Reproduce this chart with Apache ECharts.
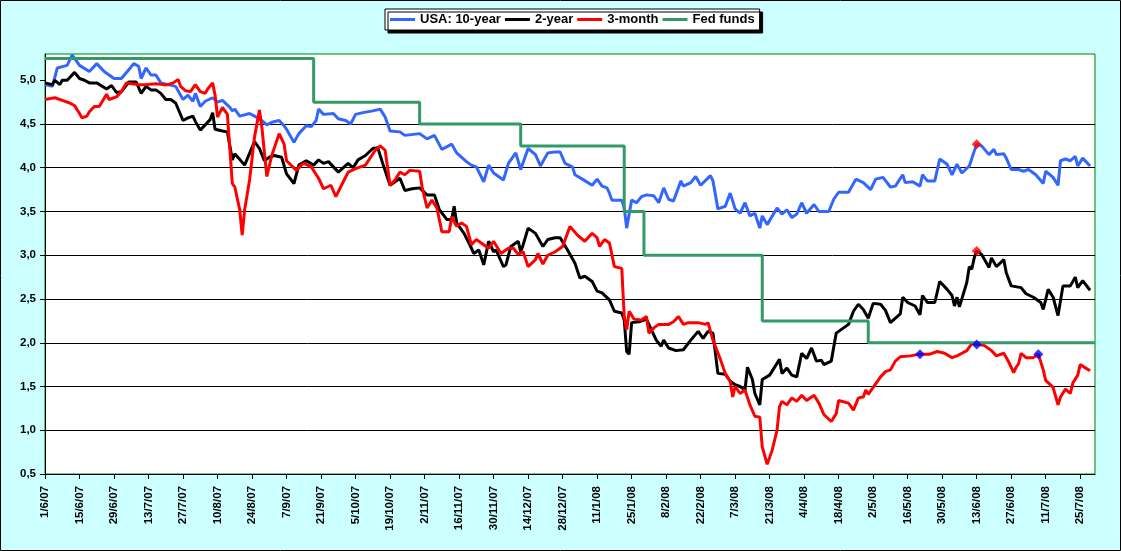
<!DOCTYPE html>
<html><head><meta charset="utf-8">
<script src="https://cdn.jsdelivr.net/npm/echarts@6/dist/echarts.min.js"></script>
<style>html,body{margin:0;padding:0;background:#CCFFFF;overflow:hidden}#c{width:1121px;height:551px}</style>
</head><body><div id="c"></div>
<script>
// x values are calendar days counted from 1 June 2007
const tickLabels = ['1/6/07','15/6/07','29/6/07','13/7/07','27/7/07','10/8/07','24/8/07','7/9/07','21/9/07','5/10/07','19/10/07','2/11/07','16/11/07','30/11/07','14/12/07','28/12/07','11/1/08','25/1/08','8/2/08','22/2/08','7/3/08','21/3/08','4/4/08','18/4/08','2/5/08','16/5/08','30/5/08','13/6/08','27/6/08','11/7/08','25/7/08'];
const yTicks = [0.5,1.0,1.5,2.0,2.5,3.0,3.5,4.0,4.5,5.0];

const tenYear = [[0,4.95],[3,4.93],[5,5.14],[9,5.17],[11,5.29],[14,5.17],[18,5.10],[21,5.19],[24,5.10],[28,5.02],[31,5.02],[34,5.12],[36,5.19],[38,5.16],[39,5.02],[41,5.14],[43,5.06],[45,5.06],[47,4.97],[50,4.95],[53,4.93],[56,4.78],[58,4.83],[60,4.76],[61,4.85],[63,4.70],[65,4.76],[68,4.80],[70,4.75],[72,4.77],[75,4.69],[76,4.65],[77,4.67],[79,4.59],[83,4.62],[85,4.59],[88,4.54],[90,4.49],[92,4.52],[95,4.54],[97,4.48],[98,4.44],[101,4.29],[103,4.39],[106,4.48],[108,4.47],[110,4.54],[111,4.67],[113,4.61],[117,4.62],[119,4.56],[122,4.54],[124,4.50],[126,4.61],[129,4.63],[133,4.65],[136,4.67],[138,4.58],[140,4.42],[144,4.41],[146,4.37],[152,4.39],[155,4.33],[158,4.37],[161,4.21],[165,4.27],[167,4.17],[171,4.07],[173,4.03],[175,4.01],[178,3.84],[180,4.03],[182,3.94],[186,3.86],[188,4.05],[191,4.17],[193,3.98],[196,4.22],[199,4.15],[201,4.02],[204,4.17],[207,4.18],[209,4.18],[211,4.05],[214,4.01],[215,3.92],[218,3.87],[222,3.80],[224,3.87],[226,3.79],[228,3.77],[229,3.71],[230,3.63],[234,3.63],[235,3.54],[236,3.31],[238,3.63],[240,3.60],[242,3.67],[244,3.69],[247,3.68],[249,3.60],[251,3.77],[253,3.64],[255,3.62],[258,3.85],[259,3.79],[262,3.83],[264,3.90],[266,3.80],[270,3.91],[271,3.85],[273,3.53],[276,3.56],[278,3.71],[280,3.53],[282,3.48],[284,3.60],[286,3.45],[288,3.48],[290,3.31],[291,3.45],[293,3.35],[297,3.54],[299,3.47],[301,3.52],[303,3.43],[305,3.47],[307,3.60],[309,3.48],[312,3.58],[314,3.50],[318,3.50],[320,3.64],[322,3.72],[326,3.72],[329,3.87],[332,3.83],[335,3.75],[337,3.87],[340,3.89],[343,3.78],[345,3.79],[348,3.92],[349,3.83],[352,3.84],[355,3.79],[356,3.92],[358,3.85],[361,3.85],[363,4.10],[366,4.04],[368,3.92],[370,4.04],[372,3.94],[375,4.02],[377,4.19],[378,4.27],[380,4.25],[383,4.15],[385,4.21],[386,4.15],[389,4.16],[390,4.11],[392,3.98],[395,3.98],[397,3.96],[399,3.98],[402,3.92],[405,3.82],[406,3.96],[409,3.89],[411,3.80],[412,4.08],[414,4.10],[416,4.08],[418,4.13],[419,4.02],[421,4.11],[424,4.02]];

const twoYear = [[0,4.97],[3,4.95],[4,5.00],[6,4.95],[7,5.00],[9,5.00],[12,5.09],[14,5.02],[16,5.00],[18,4.97],[21,4.97],[25,4.90],[27,4.94],[29,4.86],[31,4.87],[34,4.98],[37,4.98],[39,4.85],[41,4.93],[43,4.89],[45,4.89],[47,4.85],[49,4.78],[51,4.78],[53,4.74],[56,4.54],[58,4.57],[60,4.59],[61,4.53],[63,4.43],[65,4.49],[67,4.55],[68,4.63],[69,4.44],[72,4.42],[74,4.41],[76,4.09],[77,4.16],[81,4.03],[85,4.30],[87,4.22],[89,4.08],[91,4.12],[93,4.14],[96,4.12],[98,3.93],[101,3.82],[103,4.03],[106,4.08],[109,4.03],[111,4.09],[113,4.05],[115,4.07],[119,3.95],[123,4.05],[125,4.00],[127,4.09],[130,4.14],[133,4.22],[135,4.23],[137,4.05],[140,3.80],[144,3.88],[146,3.74],[149,3.76],[152,3.77],[155,3.69],[158,3.69],[160,3.52],[163,3.41],[165,3.41],[166,3.56],[167,3.37],[170,3.25],[172,3.14],[174,3.02],[176,3.06],[178,2.89],[180,3.16],[182,3.04],[183,3.06],[186,2.87],[187,2.89],[189,3.10],[192,3.16],[193,3.04],[194,3.12],[196,3.31],[199,3.25],[202,3.10],[204,3.18],[207,3.20],[209,3.20],[212,3.06],[215,2.91],[217,2.74],[219,2.76],[222,2.70],[224,2.59],[226,2.57],[229,2.49],[231,2.36],[234,2.34],[235,2.26],[236,1.90],[237,1.87],[238,2.23],[241,2.24],[244,2.27],[246,2.15],[248,2.03],[250,1.96],[251,2.03],[253,1.94],[256,1.91],[259,1.92],[262,2.03],[265,2.13],[267,2.05],[269,2.13],[271,2.11],[273,1.65],[276,1.64],[278,1.56],[280,1.52],[282,1.50],[284,1.46],[285,1.72],[287,1.58],[288,1.42],[290,1.29],[291,1.58],[294,1.63],[298,1.81],[299,1.65],[301,1.71],[303,1.63],[305,1.61],[307,1.88],[309,1.82],[311,1.94],[313,1.79],[315,1.80],[316,1.75],[319,1.79],[321,2.11],[323,2.15],[326,2.21],[328,2.36],[330,2.44],[332,2.38],[334,2.28],[336,2.45],[339,2.44],[341,2.37],[343,2.23],[347,2.33],[348,2.52],[350,2.46],[353,2.42],[355,2.32],[356,2.54],[358,2.46],[361,2.46],[363,2.70],[366,2.61],[368,2.54],[369,2.42],[370,2.52],[371,2.41],[374,2.69],[375,2.87],[376,2.84],[377,2.97],[378,3.05],[380,3.01],[383,2.86],[384,2.97],[386,2.87],[389,2.95],[390,2.80],[392,2.65],[396,2.63],[398,2.56],[401,2.52],[404,2.46],[405,2.38],[407,2.61],[409,2.52],[411,2.31],[413,2.65],[416,2.65],[418,2.75],[419,2.63],[421,2.71],[424,2.60]];

const threeMonth = [[0,4.78],[4,4.80],[7,4.77],[10,4.74],[12,4.71],[14,4.62],[15,4.57],[17,4.59],[18,4.64],[20,4.70],[22,4.70],[25,4.84],[26,4.78],[29,4.81],[31,4.87],[33,4.97],[35,4.96],[38,4.95],[41,4.95],[45,4.96],[48,4.95],[50,4.95],[52,4.97],[54,5.01],[55,4.93],[57,4.88],[59,4.87],[61,4.95],[63,4.87],[65,4.85],[66,4.90],[68,4.97],[69,4.83],[70,4.58],[72,4.69],[74,4.61],[76,3.82],[77,3.78],[79,3.52],[80,3.23],[81,3.52],[83,3.86],[85,4.35],[87,4.66],[88,4.46],[90,3.90],[92,4.14],[95,4.39],[97,4.27],[98,4.08],[102,3.97],[104,4.03],[105,4.05],[108,4.01],[111,3.88],[113,3.76],[116,3.80],[118,3.67],[121,3.84],[123,3.95],[126,3.99],[130,4.03],[134,4.20],[136,4.25],[138,4.20],[140,3.80],[142,3.86],[144,3.95],[146,3.92],[148,3.97],[152,3.96],[153,3.78],[155,3.54],[157,3.63],[159,3.54],[161,3.27],[164,3.27],[165,3.44],[167,3.33],[169,3.37],[171,3.33],[173,3.12],[175,3.18],[178,3.12],[180,3.08],[182,3.16],[185,3.02],[188,3.08],[190,3.08],[192,3.01],[194,3.04],[196,2.87],[199,2.95],[200,3.02],[202,2.90],[204,3.00],[207,3.04],[210,3.10],[213,3.33],[216,3.23],[219,3.16],[222,3.25],[224,3.20],[225,3.10],[227,3.18],[229,3.14],[231,2.87],[234,2.85],[235,2.30],[236,2.15],[237,2.36],[239,2.27],[242,2.26],[244,2.30],[245,2.11],[247,2.17],[249,2.21],[253,2.21],[255,2.24],[257,2.30],[259,2.21],[261,2.23],[265,2.23],[268,2.21],[269,2.23],[271,2.03],[274,1.81],[276,1.65],[278,1.56],[279,1.38],[280,1.50],[282,1.42],[284,1.46],[286,1.29],[288,1.16],[290,1.15],[291,0.81],[293,0.61],[295,0.77],[297,1.00],[298,1.27],[299,1.33],[301,1.29],[303,1.37],[305,1.33],[307,1.40],[309,1.34],[312,1.40],[314,1.31],[316,1.18],[319,1.10],[321,1.19],[322,1.34],[326,1.31],[328,1.23],[330,1.37],[332,1.38],[333,1.46],[334,1.41],[337,1.53],[339,1.61],[341,1.67],[343,1.69],[345,1.79],[347,1.84],[351,1.85],[355,1.87],[359,1.87],[362,1.90],[365,1.88],[368,1.83],[370,1.85],[372,1.88],[374,1.91],[376,1.99],[378,1.98],[381,1.97],[384,1.91],[386,1.85],[389,1.88],[391,1.78],[393,1.66],[394,1.72],[395,1.76],[396,1.88],[398,1.83],[401,1.83],[403,1.87],[405,1.69],[406,1.57],[409,1.49],[411,1.29],[412,1.38],[414,1.47],[416,1.42],[417,1.54],[419,1.63],[420,1.75],[424,1.68]];

const fedFunds = [[0,5.25],[109,4.75],[152,4.50],[193,4.25],[235,3.50],[243,3.00],[291,2.25],[334,2.00],[426,2.00]];

const redMarks = [[378,4.27],[378,3.05]];
const blueMarks = [[355,1.87],[378,1.98],[403,1.87]];

const FONT = 'Arial, "Liberation Sans", sans-serif';
const xTickValues = tickLabels.map((_, i) => i * 14);

const chart = echarts.init(document.getElementById('c'));
chart.setOption({
  backgroundColor: '#CCFFFF',
  animation: false,
  graphic: [{
    type: 'rect', z: 100, silent: true,
    shape: { x: 0.5, y: 0.5, width: 1120, height: 550 },
    style: { fill: 'none', stroke: '#000', lineWidth: 1 }
  }],
  legend: {
    left: 385, top: 9,
    data: ['USA: 10-year', '2-year', '3-month', 'Fed funds'],
    icon: 'rect', itemWidth: 25, itemHeight: 3, itemGap: 4,
    padding: [4, 5],
    backgroundColor: '#fff', borderColor: '#000', borderWidth: 1,
    shadowColor: '#000', shadowOffsetX: 3, shadowOffsetY: 3, shadowBlur: 0,
    textStyle: { fontFamily: FONT, fontWeight: 'bold', fontSize: 13, color: '#000' }
  },
  grid: {
    left: 45, top: 54, right: 26, bottom: 77,
    show: true, backgroundColor: '#fff', borderColor: '#008000', borderWidth: 1
  },
  xAxis: {
    type: 'value', min: 0, max: 426, interval: 14,
    axisLine: { lineStyle: { color: '#000', width: 1 } },
    axisTick: { length: 5, lineStyle: { color: '#000' }, customValues: xTickValues },
    axisLabel: {
      rotate: 90, margin: 12, fontFamily: FONT, fontWeight: 'bold', fontSize: 11.5, color: '#000',
      customValues: xTickValues,
      formatter: v => (v % 14 === 0 && tickLabels[v / 14]) ? tickLabels[v / 14] : ''
    },
    splitLine: { show: false }
  },
  yAxis: {
    type: 'value', min: 0.5, max: 5.3, interval: 0.5,
    axisLine: { show: true, lineStyle: { color: '#000', width: 1 } },
    axisTick: { show: true, length: 5, lineStyle: { color: '#000' }, customValues: yTicks },
    axisLabel: {
      margin: 9, fontFamily: FONT, fontWeight: 'bold', fontSize: 11.5, color: '#000',
      customValues: yTicks,
      formatter: v => v > 5.05 ? '' : v.toFixed(1).replace('.', ',')
    },
    splitLine: { show: true, showMaxLine: false, lineStyle: { color: '#000', width: 1 } }
  },
  series: [
    { name: 'USA: 10-year', type: 'line', data: tenYear, symbol: 'none', showSymbol: false,
      lineStyle: { color: '#3366FF', width: 3 }, itemStyle: { color: '#3366FF' } },
    { name: '2-year', type: 'line', data: twoYear, symbol: 'none', showSymbol: false,
      lineStyle: { color: '#000000', width: 3 }, itemStyle: { color: '#000000' } },
    { name: '3-month', type: 'line', data: threeMonth, symbol: 'none', showSymbol: false,
      lineStyle: { color: '#FF0000', width: 3 }, itemStyle: { color: '#FF0000' } },
    { name: 'Fed funds', type: 'line', step: 'end', data: fedFunds, symbol: 'none', showSymbol: false,
      lineStyle: { color: '#339966', width: 3 }, itemStyle: { color: '#339966' } },
    { type: 'scatter', data: redMarks, symbol: 'diamond', symbolSize: 10, z: 5,
      itemStyle: { color: '#FF0000' } },
    { type: 'scatter', data: blueMarks, symbol: 'diamond', symbolSize: 10, z: 5,
      itemStyle: { color: '#0000FF' } }
  ]
});
</script>
</body></html>
